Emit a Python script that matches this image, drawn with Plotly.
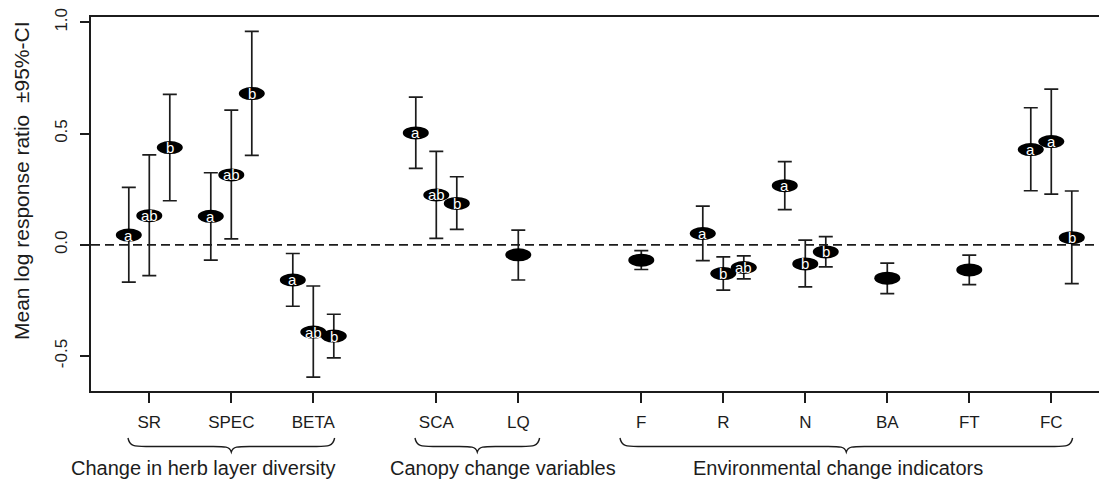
import plotly.graph_objects as go

# ---- data -----------------------------------------------------------------
group_names = [
    "Change in herb layer diversity",
    "Canopy change variables",
    "Environmental change indicators",
]
group_members = [
    ["SR", "SPEC", "BETA"],
    ["SCA", "LQ"],
    ["F", "R", "N", "BA", "FT", "FC"],
]

# one entry per estimate (variable, mean, lower CI, upper CI, letter)
point_var = (["SR"] * 3 + ["SPEC"] * 3 + ["BETA"] * 3 + ["SCA"] * 3 + ["LQ"]
             + ["F"] + ["R"] * 3 + ["N"] * 3 + ["BA"] + ["FT"] + ["FC"] * 3)
point_mean = [0.044, 0.131, 0.437,
              0.128, 0.314, 0.680,
              -0.158, -0.392, -0.410,
              0.503, 0.224, 0.186,
              -0.045,
              -0.069,
              0.051, -0.129, -0.102,
              0.266, -0.086, -0.032,
              -0.150,
              -0.113,
              0.428, 0.464, 0.032]
point_lo = [-0.168, -0.138, 0.198,
            -0.069, 0.027, 0.402,
            -0.276, -0.595, -0.508,
            0.344, 0.029, 0.069,
            -0.158,
            -0.111,
            -0.071, -0.204, -0.153,
            0.158, -0.189, -0.099,
            -0.219,
            -0.179,
            0.243, 0.228, -0.174]
point_hi = [0.258, 0.404, 0.676,
            0.324, 0.605, 0.959,
            -0.039, -0.185, -0.312,
            0.664, 0.420, 0.306,
            0.066,
            -0.026,
            0.174, -0.054, -0.050,
            0.374, 0.021, 0.037,
            -0.082,
            -0.046,
            0.616, 0.700, 0.242]
point_letter = ["a", "ab", "b",
                "a", "ab", "b",
                "a", "ab", "b",
                "a", "ab", "b",
                "",
                "",
                "a", "b", "ab",
                "a", "b", "b",
                "",
                "",
                "a", "a", "b"]

y_ticks = [-0.5, 0.0, 0.5, 1.0]
y_ticktext = ["-0.5", "0.0", "0.5", "1.0"]

# ---- layout constants --------------------------------------------------------
FONT = "Liberation Sans, Arial, Helvetica, sans-serif"
INK = "#1c1c1c"
W, H = 1099, 481
ML, MR, MT, MB = 91, 0, 17, 90
WITHIN_STEP, GROUP_STEP = 1.0, 1.5
SUB_OFFSET = 0.25
X_RANGE = [0.289, 12.582]
Y_RANGE = [-0.657, 1.024]

plot_h = H - MT - MB
plot_w = W - ML - MR


def px_to_paper_y(py):
    return (H - MB - py) / plot_h


def px_to_paper_x(px):
    return (px - ML) / plot_w


# x position of every variable along the axis
var_pos = {}
pos = 1.0
for gi, members in enumerate(group_members):
    if gi > 0:
        pos += GROUP_STEP - WITHIN_STEP
    for name in members:
        var_pos[name] = pos
        pos += WITHIN_STEP

# spread the estimates of one variable side by side
point_x = []
counts = {v: point_var.count(v) for v in var_pos}
seen = {v: 0 for v in var_pos}
for v in point_var:
    n, k = counts[v], seen[v]
    point_x.append(var_pos[v] + (k - (n - 1) / 2) * SUB_OFFSET)
    seen[v] += 1

err_plus = [h - m for h, m in zip(point_hi, point_mean)]
err_minus = [m - l for m, l in zip(point_mean, point_lo)]

fig = go.Figure()
fig.add_trace(go.Scatter(
    x=point_x, y=point_mean, mode="markers",
    marker=dict(size=1, color="rgba(0,0,0,0)"),
    error_y=dict(type="data", symmetric=False, array=err_plus,
                 arrayminus=err_minus, width=7, thickness=1.7, color=INK),
    hoverinfo="skip", showlegend=False,
))

shapes = []
# reference line at zero
shapes.append(dict(type="line", xref="paper", x0=0, x1=1, yref="y", y0=0, y1=0,
                   line=dict(color=INK, width=1.6, dash="9px,5px"), layer="below"))

# black ellipses behind the group letters
for x, y in zip(point_x, point_mean):
    shapes.append(dict(type="circle", xref="x", yref="y",
                       xsizemode="pixel", ysizemode="pixel",
                       xanchor=x, yanchor=y, x0=-13, x1=13, y0=-6.5, y1=6.5,
                       fillcolor="black", line=dict(width=0), layer="above"))

# curly braces under each group of tick labels
y_end, y_flat, y_tip = px_to_paper_y(438), px_to_paper_y(446.5), px_to_paper_y(452)
r = 0.22
for members in group_members:
    x0 = var_pos[members[0]] - 0.26
    x1 = var_pos[members[-1]] + 0.26
    xm = (x0 + x1) / 2
    path = (f"M {x0},{y_end} C {x0 + 0.02},{y_flat} {x0 + 0.08},{y_flat} {x0 + r},{y_flat} "
            f"L {xm - r},{y_flat} C {xm - 0.08},{y_flat} {xm - 0.02},{y_flat} {xm},{y_tip} "
            f"C {xm + 0.02},{y_flat} {xm + 0.08},{y_flat} {xm + r},{y_flat} "
            f"L {x1 - r},{y_flat} C {x1 - 0.08},{y_flat} {x1 - 0.02},{y_flat} {x1},{y_end}")
    shapes.append(dict(type="path", xref="x", yref="paper", path=path,
                       line=dict(color=INK, width=1.4)))

annotations = []
for x, y, t in zip(point_x, point_mean, point_letter):
    if t:
        annotations.append(dict(xref="x", yref="y", x=x, y=y, text=t,
                                showarrow=False, xanchor="center", yanchor="middle",
                                font=dict(family=FONT, size=15, color="white")))

# group captions
group_label_px = [203.5, 503, 837.5]
for name, gx in zip(group_names, group_label_px):
    annotations.append(dict(xref="paper", yref="paper", x=px_to_paper_x(gx),
                            y=px_to_paper_y(468), text=name, showarrow=False,
                            xanchor="center", yanchor="middle",
                            font=dict(family=FONT, size=20, color=INK)))

# y axis title
annotations.append(dict(xref="paper", yref="paper", x=px_to_paper_x(21),
                        y=px_to_paper_y(181),
                        text="Mean log response ratio&nbsp;&nbsp;±95%-CI",
                        textangle=-90, showarrow=False,
                        xanchor="center", yanchor="middle",
                        font=dict(family=FONT, size=21, color=INK)))

fig.update_layout(
    width=W, height=H,
    margin=dict(l=ML, r=MR, t=MT, b=MB, pad=0),
    paper_bgcolor="white", plot_bgcolor="white",
    template="none",
    font=dict(family=FONT, color=INK),
    shapes=shapes, annotations=annotations,
    showlegend=False,
    xaxis=dict(range=X_RANGE, tickvals=[var_pos[v] for m in group_members for v in m],
               ticktext=[v for m in group_members for v in m],
               ticks="outside", ticklen=10, tickwidth=1.5, tickcolor=INK,
               ticklabelstandoff=5,
               showline=True, linecolor=INK, linewidth=1.8, mirror=True,
               showgrid=False, zeroline=False, automargin=False,
               tickfont=dict(family=FONT, size=17, color=INK)),
    yaxis=dict(range=Y_RANGE, tickvals=y_ticks, ticktext=y_ticktext,
               tickangle=-90, ticks="outside", ticklen=9, tickwidth=1.5,
               tickcolor=INK, ticklabelstandoff=6,
               showline=True, linecolor=INK, linewidth=1.8,
               mirror=False, showgrid=False, zeroline=False, automargin=False,
               tickfont=dict(family=FONT, size=17, color=INK)),
)

fig.write_html("out.html")
